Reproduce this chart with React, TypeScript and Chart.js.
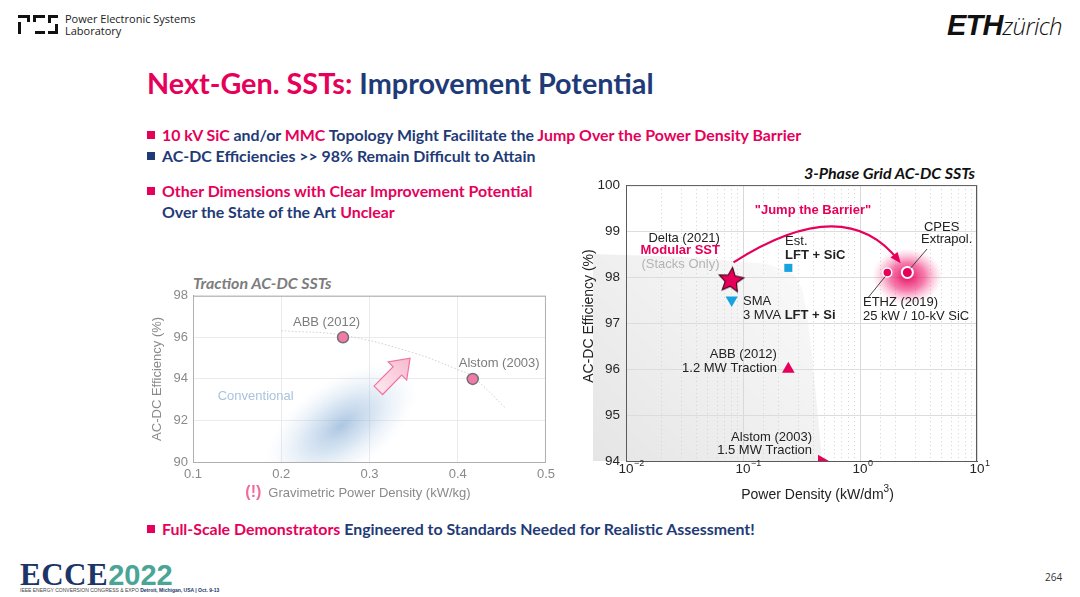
import React, { useEffect, useRef } from "react";
import { Chart, registerables } from "chart.js";

Chart.register(...registerables);

// ---------------- data ----------------
// Left: traction AC-DC SSTs (linear axes)
const tractionSystems = ["ABB (2012)", "Alstom (2003)"];
const tractionDensity = [0.27, 0.417]; // kW/kg
const tractionEfficiency = [96.0, 94.0]; // %
const tractionTrendDensity = [0.2, 0.27, 0.35, 0.4, 0.417, 0.455];
const tractionTrendEfficiency = [96.32, 96.1, 95.25, 94.45, 94.1, 92.56];
const tractionXTicks = [0.1, 0.2, 0.3, 0.4, 0.5];
const tractionYTicks = [90, 92, 94, 96, 98];

// Right: 3-phase grid AC-DC SSTs (log x axis)
const gridSystems = ["Delta (2021)", "SMA", "Est. LFT + SiC", "ABB (2012)", "Alstom (2003)", "ETHZ (2019)", "CPES Extrapol."];
const gridDensity = [0.079, 0.08, 0.244, 0.244, 0.47, 1.71, 2.54]; // kW/dm3
const gridEfficiency = [97.95, 97.5, 98.2, 96.0, 94.0, 98.1, 98.1]; // %
const gridXTickExponents = [-2, -1, 0, 1];
const gridYTicks = [94, 95, 96, 97, 98, 99, 100];
const barrierDensity = [0.01, 0.029, 0.16, 0.267, 0.319, 0.352, 0.396, 0.438, 0.473];
const barrierEfficiency = [98.5, 98.44, 98.29, 98.07, 97.77, 97.21, 96.12, 94.95, 94.0];

// ---------------- styles ----------------
const PINK = "#e6005a";
const NAVY = "#1f3b77";
const CYAN = "#17a3e0";
const CHART_FONT = "'Liberation Sans', Arial, sans-serif";
const SLIDE_FONT = "Lato, 'Open Sans', sans-serif";

const gridMarkerShape = ["star", "triangle", "rect", "triangle", "triangle", "circle", "circle"];
const gridMarkerRotation = [0, 180, 0, 0, 90, 0, 0];
const gridMarkerRadius = [12, 7, 5.7, 7.3, 7.3, 4.5, 5.5];
const gridMarkerFill = [PINK, CYAN, CYAN, PINK, PINK, PINK, PINK];
const gridMarkerBorder = ["#000", CYAN, CYAN, PINK, PINK, "#ffffff", "#ffffff"];
const gridMarkerBorderWidth = [0, 0, 0, 0, 0, 1.5, 2];

type Seg = { t: string; bold?: boolean; color?: string };
type Label = { x: number; y: number; align: "left" | "right" | "center"; segs: Seg[] };

const gridLabels: Label[] = [
  { x: 0.0635, y: 98.85, align: "right", segs: [{ t: "Delta (2021)" }] },
  { x: 0.0635, y: 98.57, align: "right", segs: [{ t: "Modular SST", bold: true, color: PINK }] },
  { x: 0.063, y: 98.27, align: "right", segs: [{ t: "(Stacks Only)", color: "#b3b3b3" }] },
  { x: 0.229, y: 98.77, align: "left", segs: [{ t: "Est." }] },
  { x: 0.229, y: 98.48, align: "left", segs: [{ t: "LFT + SiC", bold: true }] },
  { x: 0.1, y: 97.47, align: "left", segs: [{ t: "SMA" }] },
  { x: 0.1, y: 97.16, align: "left", segs: [{ t: "3 MVA " }, { t: "LFT + Si", bold: true }] },
  { x: 3.52, y: 99.09, align: "left", segs: [{ t: "CPES" }] },
  { x: 3.32, y: 98.81, align: "left", segs: [{ t: "Extrapol." }] },
  { x: 1.06, y: 97.44, align: "left", segs: [{ t: "ETHZ (2019)" }] },
  { x: 1.06, y: 97.14, align: "left", segs: [{ t: "25 kW / 10-kV SiC" }] },
  { x: 0.195, y: 96.32, align: "right", segs: [{ t: "ABB (2012)" }] },
  { x: 0.195, y: 96.01, align: "right", segs: [{ t: "1.2 MW Traction" }] },
  { x: 0.389, y: 94.52, align: "right", segs: [{ t: "Alstom (2003)" }] },
  { x: 0.389, y: 94.24, align: "right", segs: [{ t: "1.5 MW Traction" }] },
  { x: 0.396, y: 99.44, align: "center", segs: [{ t: "\"Jump the Barrier\"", bold: true, color: PINK }] },
];

const tractionLabels: Label[] = [
  { x: 0.2514, y: 96.7, align: "center", segs: [{ t: tractionSystems[0] }] },
  { x: 0.447, y: 94.74, align: "center", segs: [{ t: tractionSystems[1] }] },
  { x: 0.128, y: 93.15, align: "left", segs: [{ t: "Conventional", color: "#a9c3dd" }] },
];

const jumpFrom = { x: 0.083, y: 98.32 };
const jumpVia = { x: 0.745, y: 99.87 };
const jumpTo = { x: 2.15, y: 98.35 };
const cpesLeaderEnd = { x: 3.74, y: 98.61 };
const ethzLeaderEnd = { x: 1.17, y: 97.55 };
const convBlobCenter = { x: 0.268, y: 91.75 };
const improveArrowFrom = { x: 0.31, y: 93.45 };
const improveArrowTo = { x: 0.346, y: 95.0 };

// ---------------- helpers ----------------
function drawSegs(
  ctx: CanvasRenderingContext2D,
  segs: Seg[],
  x: number,
  y: number,
  align: string,
  size: number,
  defColor: string
) {
  const fonts = segs.map((s) => `${s.bold ? "bold " : ""}${size}px ${CHART_FONT}`);
  const widths = segs.map((s, i) => {
    ctx.font = fonts[i];
    return ctx.measureText(s.t).width;
  });
  const total = widths.reduce((a, b) => a + b, 0);
  let cx = align === "left" ? x : align === "right" ? x - total : x - total / 2;
  ctx.textBaseline = "middle";
  ctx.textAlign = "left";
  segs.forEach((s, i) => {
    ctx.font = fonts[i];
    ctx.fillStyle = s.color || defColor;
    ctx.fillText(s.t, cx, y);
    cx += widths[i];
  });
}

function makeStar(): HTMLCanvasElement {
  const c = document.createElement("canvas");
  const s = 30;
  c.width = s;
  c.height = s;
  const g = c.getContext("2d")!;
  g.beginPath();
  for (let i = 0; i < 10; i++) {
    const r = i % 2 === 0 ? 13 : 6;
    const a = -Math.PI / 2 + (i * Math.PI) / 5 + 0.12;
    g.lineTo(s / 2 + r * Math.cos(a), s / 2 + 1 + r * Math.sin(a));
  }
  g.closePath();
  g.fillStyle = PINK;
  g.fill();
  g.strokeStyle = "#3d0018";
  g.lineWidth = 1.1;
  g.stroke();
  return c;
}

const isDecade = (v: number) => Math.abs(Math.log10(v) - Math.round(Math.log10(v))) < 1e-6;

// ---------------- left chart ----------------
function TractionChart() {
  const ref = useRef<HTMLCanvasElement>(null);
  useEffect(() => {
    const canvas = ref.current!;
    const decor = {
      id: "tractionDecor",
      beforeDatasetsDraw(chart: any) {
        const { ctx, chartArea: a, scales } = chart;
        const X = (v: number) => scales.x.getPixelForValue(v);
        const Y = (v: number) => scales.y.getPixelForValue(v);
        ctx.save();
        ctx.beginPath();
        ctx.rect(a.left, a.top, a.right - a.left, a.bottom - a.top);
        ctx.clip();
        // conventional blob
        ctx.save();
        ctx.translate(X(convBlobCenter.x), Y(convBlobCenter.y));
        ctx.rotate(-0.62);
        ctx.scale(1, 0.52);
        const g = ctx.createRadialGradient(0, 0, 0, 0, 0, 88);
        g.addColorStop(0, "rgba(118,160,205,0.6)");
        g.addColorStop(0.45, "rgba(150,186,222,0.36)");
        g.addColorStop(1, "rgba(210,226,242,0)");
        ctx.fillStyle = g;
        ctx.beginPath();
        ctx.arc(0, 0, 88, 0, Math.PI * 2);
        ctx.fill();
        ctx.restore();
        // improvement arrow
        const x0 = X(improveArrowFrom.x), y0 = Y(improveArrowFrom.y);
        const x1 = X(improveArrowTo.x), y1 = Y(improveArrowTo.y);
        const L = Math.hypot(x1 - x0, y1 - y0);
        ctx.translate(x0, y0);
        ctx.rotate(Math.atan2(y1 - y0, x1 - x0));
        ctx.beginPath();
        const sw = 6, hw = 13, hl = 18;
        ctx.moveTo(0, -sw);
        ctx.lineTo(L - hl, -sw);
        ctx.lineTo(L - hl, -hw);
        ctx.lineTo(L, 0);
        ctx.lineTo(L - hl, hw);
        ctx.lineTo(L - hl, sw);
        ctx.lineTo(0, sw);
        ctx.closePath();
        const ag = ctx.createLinearGradient(0, 0, L, 0);
        ag.addColorStop(0, "#fde6ee");
        ag.addColorStop(1, "#f7b9cf");
        ctx.fillStyle = ag;
        ctx.fill();
        ctx.strokeStyle = "#f2739f";
        ctx.lineWidth = 1.2;
        ctx.stroke();
        ctx.restore();
      },
      afterDraw(chart: any) {
        const { ctx, chartArea: a, scales } = chart;
        const X = (v: number) => scales.x.getPixelForValue(v);
        const Y = (v: number) => scales.y.getPixelForValue(v);
        ctx.save();
        ctx.strokeStyle = "#b0b0b0";
        ctx.lineWidth = 1;
        ctx.strokeRect(a.left + 0.5, a.top + 0.5, a.right - a.left - 1, a.bottom - a.top);
        tractionLabels.forEach((l) => drawSegs(ctx, l.segs, X(l.x), Y(l.y), l.align, 13, "#7c7c7c"));
        // y title
        ctx.save();
        ctx.translate(a.left - 36, (a.top + a.bottom) / 2);
        ctx.rotate(-Math.PI / 2);
        ctx.font = `13px ${CHART_FONT}`;
        ctx.fillStyle = "#8a8a8a";
        ctx.textAlign = "center";
        ctx.textBaseline = "middle";
        ctx.fillText("AC-DC Efficiency (%)", 0, 0);
        ctx.restore();
        // x title
        const cx = (a.left + a.right) / 2;
        const ty = a.bottom + 31;
        ctx.font = `13px ${CHART_FONT}`;
        ctx.fillStyle = "#8a8a8a";
        ctx.textAlign = "center";
        ctx.textBaseline = "middle";
        const t = "Gravimetric Power Density (kW/kg)";
        const w = ctx.measureText(t).width;
        ctx.fillText(t, cx, ty);
        ctx.font = `bold 16px ${CHART_FONT}`;
        ctx.fillStyle = "#f06b9c";
        ctx.textAlign = "right";
        ctx.fillText("(!)", cx - w / 2 - 7, ty);
        ctx.restore();
      },
    };
    const chart = new Chart(canvas, {
      type: "scatter",
      data: {
        datasets: [
          {
            label: "Traction SSTs",
            data: tractionDensity.map((x, i) => ({ x, y: tractionEfficiency[i] })),
            pointBackgroundColor: "#f27aa7",
            pointBorderColor: "#707070",
            pointBorderWidth: 1.5,
            pointRadius: 5.5,
          },
          {
            label: "Trend",
            data: tractionTrendDensity.map((x, i) => ({ x, y: tractionTrendEfficiency[i] })),
            showLine: true,
            borderColor: "#cfcfcf",
            borderWidth: 1,
            borderDash: [1.5, 2],
            pointRadius: 0,
            tension: 0.4,
          },
        ],
      },
      options: {
        animation: false,
        responsive: false,
        events: [],
        layout: { padding: { top: 10, right: 13, left: 0, bottom: 0 } },
        plugins: { legend: { display: false }, tooltip: { enabled: false } },
        scales: {
          x: {
            type: "linear",
            min: tractionXTicks[0],
            max: tractionXTicks[tractionXTicks.length - 1],
            afterBuildTicks: (s: any) => {
              s.ticks = tractionXTicks.map((v) => ({ value: v }));
            },
            afterFit: (s: any) => {
              s.height = 43;
            },
            ticks: {
              padding: 5,
              color: "#8a8a8a",
              font: { family: CHART_FONT, size: 13 },
              maxRotation: 0,
              autoSkip: false,
              callback: (v: any) => Number(v).toFixed(1),
            },
            grid: { color: "#ebebeb", drawTicks: false },
            border: { color: "#a3a3a3" },
          },
          y: {
            type: "linear",
            min: tractionYTicks[0],
            max: tractionYTicks[tractionYTicks.length - 1],
            afterBuildTicks: (s: any) => {
              s.ticks = tractionYTicks.map((v) => ({ value: v }));
            },
            afterFit: (s: any) => {
              s.width = 63;
            },
            ticks: {
              padding: 5,
              color: "#8a8a8a",
              font: { family: CHART_FONT, size: 13 },
              autoSkip: false,
            },
            grid: { color: "#ebebeb", drawTicks: false },
            border: { color: "#a3a3a3" },
          },
        },
      },
      plugins: [decor],
    } as any);
    return () => chart.destroy();
  }, []);
  return (
    <canvas
      ref={ref}
      width={430}
      height={222}
      style={{ position: "absolute", left: 130, top: 283, width: 430, height: 222 }}
    />
  );
}

// ---------------- right chart ----------------
function GridChart() {
  const ref = useRef<HTMLCanvasElement>(null);
  useEffect(() => {
    const canvas = ref.current!;
    const star = makeStar();
    const decor = {
      id: "gridDecor",
      beforeDraw(chart: any) {
        const { ctx, chartArea: a, scales } = chart;
        const X = (v: number) => scales.x.getPixelForValue(v);
        const Y = (v: number) => scales.y.getPixelForValue(v);
        ctx.save();
        ctx.beginPath();
        ctx.moveTo(a.left - 33, Y(barrierEfficiency[0]));
        for (let i = 1; i < barrierDensity.length; i++) {
          ctx.lineTo(X(barrierDensity[i]), Y(barrierEfficiency[i]));
        }
        ctx.lineTo(X(barrierDensity[barrierDensity.length - 1]), a.bottom);
        ctx.lineTo(a.left - 33, a.bottom);
        ctx.closePath();
        const g = ctx.createLinearGradient(a.left - 33, a.bottom, X(0.35), Y(98.5));
        g.addColorStop(0, "rgba(0,0,0,0.1)");
        g.addColorStop(1, "rgba(0,0,0,0.02)");
        ctx.fillStyle = g;
        ctx.fill();
        ctx.restore();
      },
      beforeDatasetsDraw(chart: any) {
        const { ctx, scales } = chart;
        const cx = scales.x.getPixelForValue(gridDensity[6]);
        const cy = scales.y.getPixelForValue(gridEfficiency[6]);
        ctx.save();
        ctx.translate(cx, cy + 4);
        ctx.scale(1, 0.8);
        const g = ctx.createRadialGradient(0, 0, 0, 0, 0, 35);
        g.addColorStop(0, "rgba(232,0,90,0.95)");
        g.addColorStop(0.5, "rgba(238,40,120,0.6)");
        g.addColorStop(1, "rgba(255,130,175,0)");
        ctx.fillStyle = g;
        ctx.beginPath();
        ctx.arc(0, 0, 35, 0, Math.PI * 2);
        ctx.fill();
        ctx.restore();
      },
      afterDatasetsDraw(chart: any) {
        const { ctx, chartArea: a, scales } = chart;
        const X = (v: number) => scales.x.getPixelForValue(v);
        const Y = (v: number) => scales.y.getPixelForValue(v);
        ctx.save();
        // box
        ctx.strokeStyle = "#5a5a5a";
        ctx.lineWidth = 1;
        ctx.strokeRect(a.left + 0.5, a.top + 0.5, a.right - a.left - 1, a.bottom - a.top);
        // jump arrow
        const p0 = [X(jumpFrom.x), Y(jumpFrom.y)];
        const p1 = [X(jumpVia.x), Y(jumpVia.y)];
        const p2 = [X(jumpTo.x), Y(jumpTo.y)];
        ctx.strokeStyle = PINK;
        ctx.lineWidth = 2;
        ctx.beginPath();
        ctx.moveTo(p0[0], p0[1]);
        ctx.quadraticCurveTo(p1[0], p1[1], p2[0], p2[1]);
        ctx.stroke();
        const ang = Math.atan2(p2[1] - p1[1], p2[0] - p1[0]);
        ctx.save();
        ctx.translate(p2[0], p2[1]);
        ctx.rotate(ang);
        ctx.fillStyle = PINK;
        ctx.beginPath();
        ctx.moveTo(3, 0);
        ctx.lineTo(-8, -4.5);
        ctx.lineTo(-8, 4.5);
        ctx.closePath();
        ctx.fill();
        ctx.restore();
        // leader lines
        ctx.strokeStyle = "#333";
        ctx.lineWidth = 0.9;
        ctx.beginPath();
        ctx.moveTo(X(gridDensity[6]) + 3, Y(gridEfficiency[6]) - 4);
        ctx.lineTo(X(cpesLeaderEnd.x), Y(cpesLeaderEnd.y));
        ctx.moveTo(X(gridDensity[5]) - 2, Y(gridEfficiency[5]) + 4);
        ctx.lineTo(X(ethzLeaderEnd.x), Y(ethzLeaderEnd.y));
        ctx.stroke();
        // labels
        gridLabels.forEach((l) => drawSegs(ctx, l.segs, X(l.x), Y(l.y), l.align, 13, "#222"));
        // x tick labels with exponents
        ctx.fillStyle = "#262626";
        ctx.textBaseline = "middle";
        gridXTickExponents.forEach((e) => {
          const px = X(Math.pow(10, e));
          ctx.font = `13.5px ${CHART_FONT}`;
          ctx.textAlign = "center";
          ctx.fillText("10", px, a.bottom + 8);
          const w = ctx.measureText("10").width;
          ctx.font = `9px ${CHART_FONT}`;
          ctx.textAlign = "left";
          ctx.fillText(e < 0 ? "\u2212" + Math.abs(e) : String(e), px + w / 2 + 0.5, a.bottom + 3);
        });
        // x title
        const base = "Power Density (kW/dm";
        ctx.font = `14px ${CHART_FONT}`;
        const wb = ctx.measureText(base).width;
        const wp = ctx.measureText(")").width;
        ctx.font = `10px ${CHART_FONT}`;
        const ws = ctx.measureText("3").width;
        const tot = wb + ws + wp;
        let tx = (a.left + a.right) / 2 + 16 - tot / 2;
        const ty = a.bottom + 34;
        ctx.textAlign = "left";
        ctx.fillStyle = "#222";
        ctx.font = `14px ${CHART_FONT}`;
        ctx.fillText(base, tx, ty);
        tx += wb;
        ctx.font = `10px ${CHART_FONT}`;
        ctx.fillText("3", tx, ty - 6);
        tx += ws;
        ctx.font = `14px ${CHART_FONT}`;
        ctx.fillText(")", tx, ty);
        // y title
        ctx.save();
        ctx.translate(a.left - 37, (a.top + a.bottom) / 2 - 7);
        ctx.rotate(-Math.PI / 2);
        ctx.font = `14px ${CHART_FONT}`;
        ctx.fillStyle = "#222";
        ctx.textAlign = "center";
        ctx.fillText("AC-DC Efficiency (%)", 0, 0);
        ctx.restore();
        ctx.restore();
      },
    };
    const chart = new Chart(canvas, {
      type: "scatter",
      data: {
        datasets: [
          {
            label: "Grid SSTs",
            data: gridDensity.map((x, i) => ({ x, y: gridEfficiency[i] })),
            pointStyle: gridMarkerShape.map((s) => (s === "star" ? star : s)),
            rotation: gridMarkerRotation,
            pointRotation: gridMarkerRotation,
            pointRadius: gridMarkerRadius,
            pointBackgroundColor: gridMarkerFill,
            pointBorderColor: gridMarkerBorder,
            pointBorderWidth: gridMarkerBorderWidth,
          },
        ],
      },
      options: {
        animation: false,
        responsive: false,
        events: [],
        layout: { padding: { top: 8, right: 13, left: 0, bottom: 0 } },
        plugins: { legend: { display: false }, tooltip: { enabled: false } },
        scales: {
          x: {
            type: "logarithmic",
            min: Math.pow(10, gridXTickExponents[0]),
            max: Math.pow(10, gridXTickExponents[gridXTickExponents.length - 1]),
            afterFit: (s: any) => {
              s.height = 45;
            },
            ticks: { display: false, autoSkip: false },
            grid: {
              drawTicks: false,
              color: (c: any) => (c.tick && isDecade(c.tick.value) ? "#d9d9d9" : "#d2d2d2"),
            },
            border: {
              color: "#5a5a5a",
              dash: (c: any) => (c.tick && !isDecade(c.tick.value) ? [1, 3] : []),
            },
          },
          y: {
            type: "linear",
            min: gridYTicks[0],
            max: gridYTicks[gridYTicks.length - 1],
            afterBuildTicks: (s: any) => {
              s.ticks = gridYTicks.map((v) => ({ value: v }));
            },
            afterFit: (s: any) => {
              s.width = 51;
            },
            ticks: {
              padding: 6,
              color: "#262626",
              font: { family: CHART_FONT, size: 13.5 },
              autoSkip: false,
            },
            grid: { color: "#dcdcdc", drawTicks: false },
            border: { color: "#5a5a5a" },
          },
        },
      },
      plugins: [decor],
    } as any);
    return () => chart.destroy();
  }, []);
  return (
    <canvas
      ref={ref}
      width={415}
      height={335}
      style={{ position: "absolute", left: 575, top: 171, width: 415, height: 335 }}
    />
  );
}

// ---------------- slide furniture ----------------
function Bullet({ top, color, children }: { top: number; color?: string; children: any }) {
  return (
    <div
      style={{
        position: "absolute",
        left: 147,
        top,
        height: 20,
        lineHeight: "20px",
        fontSize: 15.9,
        fontWeight: 700,
        color: NAVY,
        whiteSpace: "nowrap",
        display: "flex",
        alignItems: "center",
      }}
    >
      <span
        style={{
          display: "inline-block",
          width: 8,
          height: 8,
          background: color || "transparent",
          marginRight: 7,
        }}
      />
      <span>{children}</span>
    </div>
  );
}

const P = ({ children }: { children: any }) => <span style={{ color: PINK }}>{children}</span>;

function PesLogo() {
  const c = "#111";
  return (
    <svg width={42} height={22} style={{ position: "absolute", left: 17, top: 14 }}>
      <rect x={1} y={1} width={12} height={3} fill={c} />
      <rect x={10} y={1} width={3} height={7} fill={c} />
      <rect x={1} y={8} width={3} height={12} fill={c} />
      <rect x={16} y={1} width={12} height={3} fill={c} />
      <rect x={16} y={1} width={3} height={7} fill={c} />
      <rect x={18} y={17} width={10} height={3} fill={c} />
      <rect x={31} y={1} width={10} height={3} fill={c} />
      <rect x={31} y={1} width={3} height={8} fill={c} />
      <rect x={38} y={10} width={3} height={10} fill={c} />
      <rect x={31} y={17} width={10} height={3} fill={c} />
    </svg>
  );
}

export default function App() {
  return (
    <div
      style={{
        position: "fixed",
        left: 0,
        top: 0,
        width: 1080,
        height: 597,
        background: "#fff",
        overflow: "hidden",
        fontFamily: SLIDE_FONT,
      }}
    >
      <PesLogo />
      <div
        style={{
          position: "absolute",
          left: 65,
          top: 13,
          fontSize: 11,
          lineHeight: "12px",
          color: "#1a1a1a",
          fontFamily: "'Open Sans', sans-serif",
        }}
      >
        Power Electronic Systems
        <br />
        Laboratory
      </div>
      <div
        style={{
          position: "absolute",
          left: 947,
          top: 8,
          whiteSpace: "nowrap",
          color: "#111",
          lineHeight: "34px",
        }}
      >
        <span
          style={{
            fontFamily: "'Liberation Sans', sans-serif",
            fontWeight: 900,
            fontStyle: "italic",
            fontSize: 29,
            letterSpacing: -0.8,
          }}
        >
          ETH
        </span>
        <span
          style={{
            fontFamily: "'Open Sans', sans-serif",
            fontWeight: 300,
            fontStyle: "italic",
            fontSize: 24,
            letterSpacing: -0.6,
          }}
        >
          zürich
        </span>
      </div>

      <div
        style={{
          position: "absolute",
          left: 147,
          top: 65,
          fontSize: 28.8,
          lineHeight: "36px",
          fontWeight: 700,
          color: NAVY,
          whiteSpace: "nowrap",
        }}
      >
        <P>Next-Gen. SSTs:</P> Improvement Potential
      </div>

      <Bullet top={125} color={PINK}>
        <P>10 kV SiC</P> and/or <P>MMC</P> Topology Might Facilitate the <P>Jump Over the Power Density Barrier</P>
      </Bullet>
      <Bullet top={146} color={NAVY}>
        AC-DC Efficiencies &gt;&gt; 98% Remain Difficult to Attain
      </Bullet>
      <Bullet top={181} color={PINK}>
        <P>Other Dimensions with Clear Improvement Potential</P>
      </Bullet>
      <Bullet top={202}>
        Over the State of the Art <P>Unclear</P>
      </Bullet>

      <div
        style={{
          position: "absolute",
          left: 193,
          top: 273,
          fontSize: 16,
          lineHeight: "20px",
          fontWeight: 700,
          fontStyle: "italic",
          color: "#7d7d7d",
          whiteSpace: "nowrap",
        }}
      >
        Traction AC-DC SSTs
      </div>
      <div
        style={{
          position: "absolute",
          right: 1080 - 975,
          top: 163,
          fontSize: 16,
          lineHeight: "20px",
          fontWeight: 700,
          fontStyle: "italic",
          color: "#111",
          whiteSpace: "nowrap",
        }}
      >
        3-Phase Grid AC-DC SSTs
      </div>

      <TractionChart />
      <GridChart />

      <Bullet top={519} color={PINK}>
        <P>Full-Scale Demonstrators</P> Engineered to Standards Needed for Realistic Assessment!
      </Bullet>

      <div style={{ position: "absolute", left: 20, top: 561, whiteSpace: "nowrap", lineHeight: "28px" }}>
        <span
          style={{
            fontFamily: "'Liberation Serif', serif",
            fontWeight: 700,
            fontSize: 31,
            color: "#1c3566",
            letterSpacing: 0.5,
          }}
        >
          ECCE
        </span>
        <span
          style={{
            fontFamily: "'Liberation Sans', sans-serif",
            fontWeight: 700,
            fontSize: 29,
            color: "#4aa596",
          }}
        >
          2022
        </span>
      </div>
      <div
        style={{
          position: "absolute",
          left: 20,
          top: 587,
          fontSize: 5,
          lineHeight: "6px",
          color: "#444",
          whiteSpace: "nowrap",
          fontFamily: "'Liberation Sans', sans-serif",
        }}
      >
        IEEE ENERGY CONVERSION CONGRESS &amp; EXPO <b style={{ color: "#1c3566" }}>Detroit, Michigan, USA | Oct. 9-13</b>
      </div>
      <div
        style={{
          position: "absolute",
          left: 1045,
          top: 571,
          fontSize: 10,
          lineHeight: "12px",
          color: "#333",
          fontFamily: "'Open Sans', sans-serif",
        }}
      >
        264
      </div>
    </div>
  );
}
